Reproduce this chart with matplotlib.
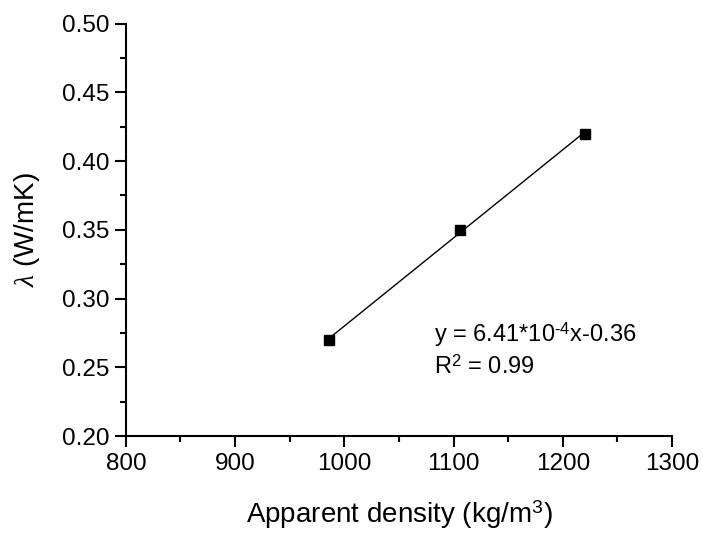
import numpy as np
import matplotlib.pyplot as plt
from matplotlib.ticker import MultipleLocator

plt.rcParams['font.family'] = ['Liberation Sans', 'DejaVu Sans']
plt.rcParams['mathtext.fontset'] = 'custom'
plt.rcParams['mathtext.rm'] = 'Liberation Sans'
plt.rcParams['mathtext.it'] = 'Liberation Serif:italic'

# densidad aparente y conductividad
density = [986, 1106, 1220]
conductivity = [0.27, 0.35, 0.42]

x_ticks = [800, 900, 1000, 1100, 1200, 1300]
y_ticks = [0.20, 0.25, 0.30, 0.35, 0.40, 0.45, 0.50]

fig = plt.figure(figsize=(7.03, 5.35), dpi=100)
ax = fig.add_axes([0.179, 0.185, 0.777, 0.771])

# ajuste lineal en el rango de los datos
coef = np.polyfit(density, conductivity, 1)
xf = np.array([min(density), max(density)])
ax.plot(xf, np.polyval(coef, xf), color='black', linewidth=1.0, zorder=2)
ax.plot(density, conductivity, 's', color='black', markersize=7, zorder=3)

ax.set_xlim(800, 1300)
ax.set_ylim(0.20, 0.50)
ax.set_xticks(x_ticks)
ax.set_yticks(y_ticks)
ax.set_yticklabels([f'{v:.2f}' for v in y_ticks])
ax.xaxis.set_minor_locator(MultipleLocator(50))
ax.yaxis.set_minor_locator(MultipleLocator(0.025))

for side in ['top', 'right']:
    ax.spines[side].set_visible(False)
for side in ['left', 'bottom']:
    ax.spines[side].set_linewidth(1.5)

ax.tick_params(which='major', direction='out', length=8, width=1.5, labelsize=17.5, pad=4)
ax.tick_params(which='minor', direction='out', length=4, width=1.5)

ax.set_xlabel('Apparent density (kg/m$^3$)', fontsize=20, labelpad=17)
ax.set_ylabel(r'$\lambda$ (W/mK)', fontsize=20, labelpad=14)

ax.text(1082, 0.2735, 'y = 6.41*10$^{\u2010 4}$x-0.36', fontsize=17, va='center', ha='left')
ax.text(1082, 0.2505, 'R$^2$ = 0.99', fontsize=17, va='center', ha='left')

fig.savefig('out.png', dpi=100)
